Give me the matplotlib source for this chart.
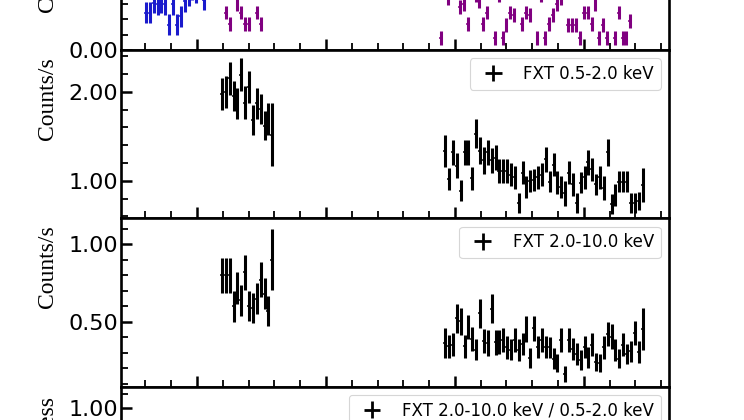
import matplotlib
matplotlib.use("Agg")
import matplotlib.pyplot as plt
import numpy as np
from matplotlib.collections import LineCollection
from matplotlib.ticker import MultipleLocator, FormatStrFormatter

#############################################
# DATOS (tiempo en ks, tasas en counts/s)
#############################################

# primer panel (casi todo fuera del recorte)
t_blue = [6.05, 6.35, 6.65, 6.95, 7.25, 7.55, 7.85, 8.15, 8.45, 8.75,
          9.05, 9.35, 9.65, 9.95, 10.25, 10.55]
rate_blue = [0.245, 0.245, 0.31, 0.30, 0.31, 0.30, 0.165, 0.30, 0.165, 0.22,
             0.32, 0.36, 0.40, 0.38, 0.42, 0.33]
err_blue = 0.07

t_orbit1 = [11.94, 12.24, 12.54, 12.84, 13.14, 13.44, 13.74, 14.04, 14.34, 14.64,
            14.94, 15.24, 15.54, 15.84]

t_purple2 = [28.9, 29.2, 29.5, 29.8, 30.1, 30.4, 30.7, 31.0, 31.3, 31.6,
             31.9, 32.2, 32.5, 32.8, 33.1, 33.4, 33.7, 34.0, 34.3, 34.6,
             34.9, 35.2, 35.5, 35.8, 36.1, 36.4, 36.7, 37.0, 37.3, 37.6,
             37.9, 38.2, 38.5, 38.8, 39.1, 39.4, 39.7, 40.0, 40.3, 40.6,
             40.9, 41.2, 41.5, 41.8, 42.1, 42.4, 42.7, 43.0, 43.3, 43.6]
rate_purple1 = [0.42, 0.245, 0.17, 0.40, 0.30, 0.245, 0.17, 0.17, 0.38, 0.245,
                0.17, 0.40, 0.45, 0.42]
rate_purple2 = [0.08, 0.40, 0.34, 0.42, 0.38, 0.28, 0.30, 0.17, 0.45, 0.36,
                0.32, 0.17, 0.245, 0.40, 0.08, 0.36, 0.08, 0.165, 0.245, 0.23,
                0.38, 0.17, 0.245, 0.23, 0.41, 0.08, 0.36, 0.08, 0.17, 0.23,
                0.30, 0.34, 0.44, 0.165, 0.165, 0.165, 0.08, 0.245, 0.245, 0.17,
                0.30, 0.08, 0.165, 0.08, 0.38, 0.08, 0.245, 0.08, 0.08, 0.19]
err_purple = 0.045

t_orbit2 = [29.25, 29.55, 29.85, 30.15, 30.45, 30.75, 31.05, 31.35, 31.65, 31.95,
            32.25, 32.55, 32.85, 33.15, 33.45, 33.75, 34.05, 34.35, 34.65, 34.95,
            35.25, 35.55, 35.85, 36.15, 36.45, 36.75, 37.05, 37.35, 37.65, 37.95,
            38.25, 38.55, 38.85, 39.15, 39.45, 39.75, 40.05, 40.35, 40.65, 40.95,
            41.25, 41.55, 41.85, 42.15, 42.45, 42.75, 43.05, 43.35, 43.65, 43.95,
            44.25, 44.55]
half_bin = 0.15

# FXT 0.5-2.0 keV
soft1 = [1.98, 2.00, 2.15, 1.95, 1.87, 2.19, 1.88, 2.05, 1.68, 1.87, 1.81, 1.62, 1.69, 1.52]
soft1_err = [0.18, 0.18, 0.19, 0.17, 0.17, 0.185, 0.18, 0.18, 0.17, 0.17, 0.17, 0.16, 0.18, 0.35]
soft2 = [1.34, 1.02, 1.32, 1.17, 0.89, 1.32, 1.32, 1.03, 1.53, 1.34,
         1.23, 1.32, 1.23, 1.26, 1.11, 1.11, 1.11, 1.07, 1.04, 0.75,
         1.09, 0.93, 1.00, 1.01, 1.04, 1.07, 1.24, 0.99, 1.18, 0.98,
         0.93, 0.86, 1.09, 0.96, 0.75, 0.98, 1.04, 1.21, 1.13, 0.96,
         1.04, 0.92, 1.32, 0.74, 0.84, 0.99, 0.99, 0.99, 0.75, 0.75,
         0.77, 0.95]
soft2_err = [0.18, 0.12, 0.14, 0.14, 0.12, 0.14, 0.14, 0.13, 0.16, 0.15,
             0.15, 0.14, 0.14, 0.14, 0.13, 0.13, 0.13, 0.13, 0.13, 0.11,
             0.13, 0.12, 0.12, 0.12, 0.13, 0.13, 0.14, 0.12, 0.13, 0.13,
             0.12, 0.14, 0.13, 0.13, 0.11, 0.12, 0.13, 0.14, 0.13, 0.12,
             0.13, 0.13, 0.15, 0.11, 0.12, 0.12, 0.12, 0.12, 0.11, 0.11,
             0.10, 0.19]

# FXT 2.0-10.0 keV
hard1 = [0.80, 0.80, 0.80, 0.60, 0.72, 0.64, 0.82, 0.60, 0.59, 0.65, 0.77, 0.68, 0.57, 0.90]
hard1_err = [0.114, 0.114, 0.114, 0.098, 0.103, 0.10, 0.114, 0.096, 0.099, 0.102,
             0.113, 0.10, 0.096, 0.197]
hard2 = [0.362, 0.341, 0.352, 0.522, 0.505, 0.341, 0.469, 0.390, 0.320, 0.554,
         0.377, 0.362, 0.586, 0.367, 0.369, 0.384, 0.335, 0.320, 0.384, 0.320,
         0.356, 0.454, 0.267, 0.458, 0.335, 0.384, 0.335, 0.335, 0.263, 0.235,
         0.384, 0.165, 0.384, 0.326, 0.292, 0.256, 0.335, 0.271, 0.352, 0.241,
         0.235, 0.335, 0.420, 0.405, 0.320, 0.263, 0.352, 0.292, 0.310, 0.426,
         0.305, 0.454]
hard2_err = [0.096, 0.074, 0.074, 0.092, 0.087, 0.071, 0.078, 0.077, 0.069, 0.094,
             0.079, 0.085, 0.096, 0.080, 0.078, 0.079, 0.074, 0.069, 0.077, 0.072,
             0.069, 0.085, 0.064, 0.081, 0.071, 0.077, 0.071, 0.069, 0.069, 0.057,
             0.077, 0.053, 0.079, 0.069, 0.069, 0.064, 0.071, 0.066, 0.074, 0.058,
             0.057, 0.074, 0.078, 0.079, 0.072, 0.062, 0.074, 0.064, 0.066, 0.077,
             0.069, 0.135]

#############################################
# FUNCIONES
#############################################

def style_axis(ax, ymajor, yminor, ylim):
    for sp in ax.spines.values():
        sp.set_linewidth(1.9)
    ax.set_xlim(4.11, 46.6)
    ax.set_ylim(*ylim)
    ax.xaxis.set_major_locator(MultipleLocator(10))
    ax.xaxis.set_minor_locator(MultipleLocator(2))
    ax.yaxis.set_major_locator(MultipleLocator(ymajor))
    ax.yaxis.set_minor_locator(MultipleLocator(yminor))
    ax.yaxis.set_major_formatter(FormatStrFormatter("%.2f"))
    ax.tick_params(which="both", direction="in", top=False, right=False,
                   labelbottom=False, labelsize=16, pad=2)
    ax.tick_params(which="major", length=8, width=1.8)
    ax.tick_params(which="minor", length=5, width=1.3)


def plot_errors(ax, t, y, yerr, color, label=None):
    cont = ax.errorbar(t, y, yerr=yerr, xerr=half_bin, fmt="none", ecolor=color,
                       elinewidth=2.2, capsize=0, label=label)
    # barra horizontal (ancho del bin) mas fina que la vertical
    xcol, ycol = cont.lines[2]
    xcol.set_linewidth(1.1)
    return cont


def add_legend(ax):
    leg = ax.legend(loc="upper right", fontsize=12, handlelength=2.0,
                    fancybox=True, framealpha=0.8)
    leg.get_frame().set_linewidth(0.8)
    # el "+" de la leyenda con trazo grueso
    for col in leg.findobj(LineCollection):
        col.set_linewidth(2.0)


#############################################
# FIGURA
#############################################

fig = plt.figure(figsize=(7.44, 4.2), dpi=100)
left, width = 121 / 744, 548 / 744
h_px = 168.25
tops = [50 - h_px, 50, 50 + h_px, 50 + 2 * h_px]
axes = [fig.add_axes([left, 1 - (tp + h_px) / 420, width, h_px / 420]) for tp in tops]
ax1, ax2, ax3, ax4 = axes

label_font = dict(family="Liberation Serif", size=17)

# panel 1
plot_errors(ax1, t_blue, rate_blue, err_blue, "#1a1acc")
plot_errors(ax1, t_orbit1, rate_purple1, err_purple, "#800080")
plot_errors(ax1, t_purple2, rate_purple2, err_purple, "#800080")
style_axis(ax1, 0.5, 0.1, (0.0, 1.1))
ax1.set_ylabel("Counts/s", **label_font)
ax1.yaxis.set_label_coords(-0.115, 0.47)

# panel 2
plot_errors(ax2, t_orbit1, soft1, soft1_err, "black", "FXT 0.5-2.0 keV")
plot_errors(ax2, t_orbit2, soft2, soft2_err, "black")
style_axis(ax2, 1.0, 0.2, (0.58, 2.47))
ax2.set_ylabel("Counts/s", **label_font)
ax2.yaxis.set_label_coords(-0.115, 0.71)
add_legend(ax2)

# panel 3
plot_errors(ax3, t_orbit1, hard1, hard1_err, "black", "FXT 2.0-10.0 keV")
plot_errors(ax3, t_orbit2, hard2, hard2_err, "black")
style_axis(ax3, 0.5, 0.1, (0.083, 1.168))
ax3.set_ylabel("Counts/s", **label_font)
ax3.yaxis.set_label_coords(-0.115, 0.71)
add_legend(ax3)

# panel 4: cociente de durezas
for t, hd, he, sf, se, lab in [(t_orbit1, hard1, hard1_err, soft1, soft1_err,
                                "FXT 2.0-10.0 keV / 0.5-2.0 keV"),
                               (t_orbit2, hard2, hard2_err, soft2, soft2_err, None)]:
    hd, he, sf, se = map(np.array, (hd, he, sf, se))
    ratio = hd / sf
    ratio_err = ratio * np.sqrt((he / hd) ** 2 + (se / sf) ** 2)
    plot_errors(ax4, t, ratio, ratio_err, "black", lab)
style_axis(ax4, 0.5, 0.1, (0.0, 1.15))
ax4.set_ylabel("Hardness", **label_font)
ax4.yaxis.set_label_coords(-0.115, 0.68)
add_legend(ax4)

fig.savefig("out.png", dpi=100)
